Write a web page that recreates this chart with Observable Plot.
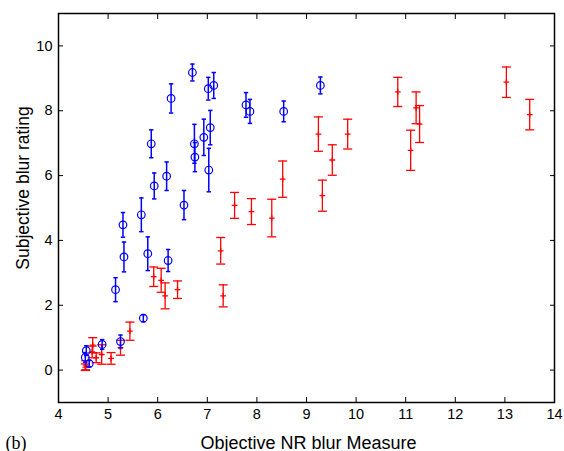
<!DOCTYPE html>
<html>
<head>
<meta charset="utf-8">
<script src="https://cdn.jsdelivr.net/npm/d3@7"></script>
<script src="https://cdn.jsdelivr.net/npm/@observablehq/plot@0.6"></script>
<style>
  html, body { margin: 0; padding: 0; background: #fff; }
  #chart { width: 564px; height: 451px; }
</style>
</head>
<body>
<div id="chart"></div>
<script>
// Blue series (circles)
const blueX = [6.70, 6.27, 7.02, 7.13, 7.78, 7.86, 8.54, 9.28, 5.87, 6.74, 6.75, 6.93, 7.06, 7.03, 5.93, 6.18, 6.53, 5.67, 5.30, 5.32, 5.80, 6.21, 5.15, 5.71, 5.25, 4.88, 4.56, 4.54, 4.62];
const blueY = [9.18, 8.38, 8.68, 8.78, 8.18, 7.98, 7.98, 8.78, 6.98, 6.98, 6.57, 7.18, 7.48, 6.17, 5.68, 5.98, 5.09, 4.79, 4.48, 3.49, 3.59, 3.38, 2.48, 1.60, 0.88, 0.79, 0.60, 0.39, 0.20];
const blueE = [0.26, 0.45, 0.35, 0.40, 0.38, 0.37, 0.32, 0.26, 0.43, 0.60, 0.45, 0.56, 0.53, 0.67, 0.40, 0.44, 0.45, 0.52, 0.38, 0.46, 0.52, 0.34, 0.37, 0.11, 0.20, 0.15, 0.15, 0.15, 0.10];

// Red series (plus markers)
const redX = [7.55, 7.89, 8.30, 8.52, 7.27, 7.32, 5.92, 6.07, 6.15, 6.40, 5.44, 5.25, 5.06, 4.87, 4.76, 4.69, 4.68, 4.55, 4.54, 9.24, 9.52, 9.83, 9.32, 10.84, 11.21, 11.28, 11.10, 13.03, 13.50];
const redY = [5.08, 4.89, 4.69, 5.89, 3.68, 2.29, 2.88, 2.77, 2.29, 2.48, 1.20, 0.69, 0.36, 0.48, 0.38, 0.77, 0.56, 0.15, 0.09, 7.28, 6.48, 7.28, 5.38, 8.58, 8.09, 7.59, 6.78, 8.88, 7.88];
const redE = [0.40, 0.40, 0.58, 0.56, 0.41, 0.34, 0.30, 0.37, 0.40, 0.27, 0.28, 0.23, 0.18, 0.30, 0.15, 0.23, 0.18, 0.14, 0.10, 0.53, 0.47, 0.46, 0.48, 0.45, 0.49, 0.57, 0.62, 0.47, 0.47];

const xTicks = [4, 5, 6, 7, 8, 9, 10, 11, 12, 13, 14];
const yTicks = [0, 2, 4, 6, 8, 10];
const xLabel = "Objective NR blur Measure";
const yLabel = "Subjective blur rating";
const panelLabel = "(b)";

const blue = blueX.map((x, i) => ({x, y: blueY[i], e: blueE[i]}));
const red = redX.map((x, i) => ({x, y: redY[i], e: redE[i]}));

const capSymbol = {
  draw(context, size) {
    const h = Math.sqrt(size / Math.PI);
    context.moveTo(-h, 0);
    context.lineTo(h, 0);
  }
};

const BLUE = "#0000ff";
const RED = "#ff0000";
const font = "'Liberation Sans', Arial, sans-serif";

const errMarks = (data, color, capR, sw) => [
  Plot.ruleX(data, {x: "x", y1: d => d.y - d.e, y2: d => d.y + d.e, stroke: color, strokeWidth: sw}),
  Plot.dot(data, {x: "x", y: d => d.y - d.e, symbol: capSymbol, r: capR, stroke: color, strokeWidth: sw, fill: "none"}),
  Plot.dot(data, {x: "x", y: d => d.y + d.e, symbol: capSymbol, r: capR, stroke: color, strokeWidth: sw, fill: "none"})
];

const chart = Plot.plot({
  width: 564,
  height: 451,
  marginLeft: 58,
  marginRight: 10,
  marginTop: 13,
  marginBottom: 49,
  style: {fontFamily: font, fontSize: "14px", color: "#000", background: "#fff"},
  x: {domain: [4, 14]},
  y: {domain: [-1, 11]},
  marks: [
    ...errMarks(red, RED, 4.5, 1.3),
    Plot.dot(red, {x: "x", y: "y", symbol: "plus", r: 2, stroke: RED, strokeWidth: 1.3}),
    ...errMarks(blue, BLUE, 2.2, 1.5),
    Plot.dot(blue, {x: "x", y: "y", r: 3.8, stroke: BLUE, strokeWidth: 1.2, fill: "none"}),
    Plot.axisX({anchor: "bottom", ticks: xTicks, tickSize: 0, tickPadding: 6, label: null, fontSize: 14.5}),
    Plot.axisX({anchor: "bottom", ticks: xTicks, tickSize: -5, tickFormat: () => "", label: null, strokeWidth: 1}),
    Plot.axisX({anchor: "top", ticks: xTicks, tickSize: -5, tickFormat: () => "", label: null, strokeWidth: 1}),
    Plot.axisY({anchor: "left", ticks: yTicks, tickSize: 0, tickPadding: 6, label: null, fontSize: 14.5}),
    Plot.axisY({anchor: "left", ticks: yTicks, tickSize: -5, tickFormat: () => "", label: null, strokeWidth: 1}),
    Plot.axisY({anchor: "right", ticks: yTicks, tickSize: -5, tickFormat: () => "", label: null, strokeWidth: 1}),
    Plot.frame({stroke: "#000", strokeWidth: 1.5}),
    Plot.text([xLabel], {frameAnchor: "bottom", dx: 2, dy: 46, fontSize: 18, fill: "#000"}),
    Plot.text([yLabel], {frameAnchor: "left", textAnchor: "middle", rotate: -90, dx: -35, dy: -20, fontSize: 17.5, fill: "#000"}),
    Plot.text([panelLabel], {frameAnchor: "bottom-left", dx: -53, dy: 46, fontSize: 18, fontFamily: "'Liberation Serif', 'Times New Roman', serif", fill: "#000"})
  ]
});
document.getElementById("chart").appendChild(chart);
</script>
</body>
</html>
